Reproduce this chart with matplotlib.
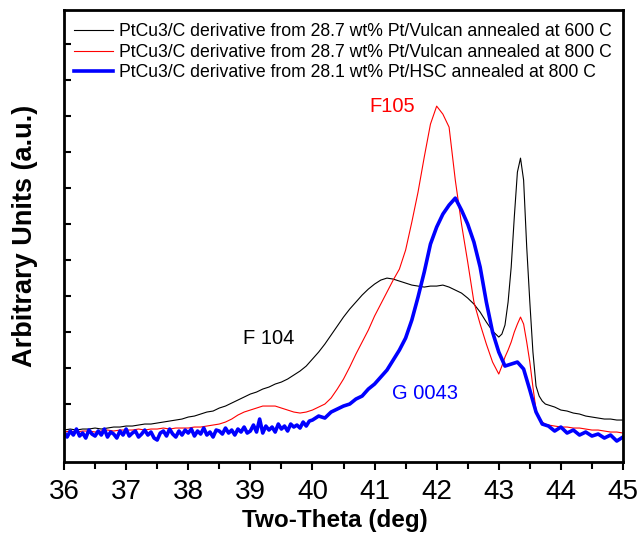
import numpy as np
import matplotlib
matplotlib.use("Agg")
import matplotlib.pyplot as plt
from matplotlib.ticker import MultipleLocator, FixedLocator

plt.rcParams['font.family'] = ['Liberation Sans', 'DejaVu Sans']

# 2-theta sampling: coarse, fine around the 43.3 deg peak, coarse again
tt_a = np.linspace(36.0, 42.8, 69)
tt_b = np.linspace(42.9, 43.75, 18)
tt_c = np.linspace(43.8, 45.0, 13)

# PtCu3/C from 28.7 wt% Pt/Vulcan, 600 C
vulcan600 = [
    32, 33, 32, 33, 33, 34, 33, 34, 35, 35,
    36, 36, 37, 38, 38, 39, 40, 41, 42, 43,
    45, 46, 48, 50, 51, 54, 56, 59, 62, 65,
    68, 70, 73, 75, 78, 80, 83, 87, 91, 96,
    103, 110, 118, 127, 136, 145, 153, 160, 167, 173,
    178, 182, 184, 183, 181, 179, 177, 176, 175, 176,
    176, 177, 175, 172, 169, 164, 158, 150, 140,
    131, 128, 125, 128, 137, 160, 195, 245, 290, 304, 282, 215, 160, 110, 76, 66, 61, 58,
    57, 55, 52, 51, 49, 48, 46, 45, 44, 43, 43, 42, 42,
]

# PtCu3/C from 28.7 wt% Pt/Vulcan, 800 C
vulcan800 = [
    30, 31, 30, 31, 31, 30, 31, 32, 31, 32,
    32, 32, 33, 32, 33, 33, 34, 33, 34, 34,
    34, 35, 35, 36, 37, 38, 40, 43, 47, 50,
    52, 54, 56, 56, 56, 54, 52, 50, 49, 50,
    52, 55, 58, 64, 73, 83, 95, 108, 120, 132,
    146, 158, 170, 182, 193, 212, 240, 270, 305, 338,
    356, 348, 335, 282, 238, 200, 160, 138, 118,
    100, 94, 88, 96, 105, 112, 120, 130, 138, 145, 138, 120, 100, 75, 52, 44, 40, 38,
    37, 36, 35, 35, 34, 34, 33, 32, 32, 31, 30, 30, 29,
]

# PtCu3/C from 28.1 wt% Pt/HSC, 800 C (noisier scan)
hsc_tt_a = np.linspace(36.0, 39.95, 80)
hsc_tt_b = np.linspace(40.0, 45.0, 51)
hsc800 = [
    30, 25, 31, 27, 33, 26, 29, 24, 32, 28,
    26, 31, 27, 33, 25, 30, 28, 24, 31, 27,
    33, 26, 29, 31, 25, 28, 32, 27, 30, 24,
    22, 29, 31, 26, 33, 28, 25, 31, 27, 32,
    29, 33, 26, 31, 28, 34, 27, 30, 25, 32,
    31, 28, 34, 29, 32, 27, 33, 30, 35, 29,
    31, 37, 30, 43, 29, 36, 32, 35, 30, 38,
    33, 36, 31, 38, 35, 37, 34, 40, 36, 41,
    42, 46, 44, 50, 53, 56, 58, 63, 66, 73,
    78, 85, 92, 102, 112, 124, 142, 165, 190, 218,
    235, 248, 257, 264, 252, 238, 220, 195, 160, 130,
    110, 96, 98, 100, 93, 72, 50, 38, 36, 31,
    35, 29, 32, 27, 30, 26, 28, 24, 27, 21,
    25,
]

labels = [
    'PtCu3/C derivative from 28.7 wt% Pt/Vulcan annealed at 600 C',
    'PtCu3/C derivative from 28.7 wt% Pt/Vulcan annealed at 800 C',
    'PtCu3/C derivative from 28.1 wt% Pt/HSC annealed at 800 C',
]

fig = plt.figure(figsize=(6.37, 5.35), dpi=100)
ax = fig.add_axes([0.1005, 0.1364, 0.8775, 0.8446])

tt = np.concatenate([tt_a, tt_b, tt_c])
ax.plot(tt, vulcan600, color='black', lw=0.8, label=labels[0])
ax.plot(tt, vulcan800, color='red', lw=0.8, label=labels[1])
ax.plot(np.concatenate([hsc_tt_a, hsc_tt_b]), hsc800, color='blue', lw=2.6, label=labels[2])

ax.text(39.29, 124, 'F 104', color='black', fontsize=14.5, ha='center', va='center')
ax.text(41.29, 356, 'F105', color='red', fontsize=14.5, ha='center', va='center')
ax.text(41.82, 69, 'G 0043', color='blue', fontsize=14.5, ha='center', va='center')

ax.set_xlim(36, 45)
ax.set_ylim(0, 452)
ax.xaxis.set_major_locator(MultipleLocator(1))
ax.xaxis.set_minor_locator(MultipleLocator(0.5))
ax.yaxis.set_major_locator(FixedLocator(np.arange(58, 452, 36)))
ax.set_yticklabels([])
ax.tick_params(axis='x', which='both', direction='out', labelsize=20, width=1.5, top=False, pad=6)
ax.tick_params(axis='x', which='major', length=6)
ax.tick_params(axis='x', which='minor', length=5)
ax.tick_params(axis='y', which='both', direction='in', length=5, width=1.5, right=False)
for sp in ax.spines.values():
    sp.set_linewidth(2)

ax.set_xlabel('Two-Theta (deg)', fontsize=17.5, fontweight='bold', labelpad=3)
ax.xaxis.label.set_x(0.485)
ax.set_ylabel('Arbitrary Units (a.u.)', fontsize=19.5, fontweight='bold', labelpad=15)

ax.legend(loc='upper left', frameon=False, fontsize=12.7, handlelength=2.2,
          handletextpad=0.3, labelspacing=0.2, borderaxespad=0.35,
          bbox_to_anchor=(-0.005, 1.0))

fig.savefig('out.png', dpi=100)
